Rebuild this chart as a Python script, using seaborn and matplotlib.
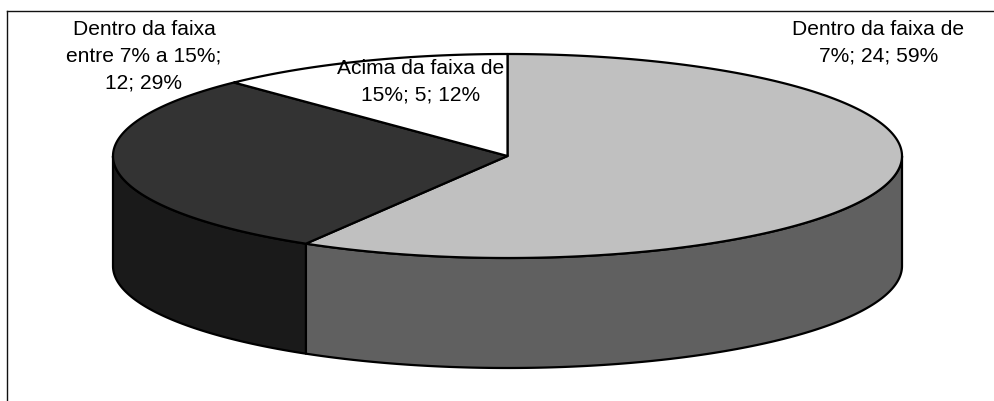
import numpy as np
import matplotlib
matplotlib.use("Agg")
import matplotlib.pyplot as plt
import seaborn as sns

# Survey counts per range
categories = ["Dentro da faixa de 7%", "Dentro da faixa entre 7% a 15%", "Acima da faixa de 15%"]
counts = [24, 12, 5]
label_texts = [
    "Dentro da faixa de\n7%; 24; 59%",
    "Dentro da faixa\nentre 7% a 15%;\n12; 29%",
    "Acima da faixa de\n15%; 5; 12%",
]
top_colors = ["#C0C0C0", "#333333", "#FFFFFF"]
side_colors = ["#606060", "#1A1A1A", "#808080"]
label_centers = [(878.5, 43), (144, 56.5), (420.5, 81.5)]

sns.set_theme(style="white")
plt.rcParams["font.family"] = ["Liberation Sans", "DejaVu Sans"]

# Pie projection in pixel-like axis units
CX, CY, RX, RY, DEPTH = 507.5, 156.0, 394.5, 102.0, 110.0
EDGE = 1.6


def rim(a0, a1, drop=0.0):
    """Ellipse points between two clockwise angles measured from the top."""
    n = max(int(abs(a1 - a0) * 2), 2)
    t = np.radians(np.linspace(a0, a1, n))
    return CX + RX * np.sin(t), CY - RY * np.cos(t) + drop


fig = plt.figure(figsize=(9.95, 4.01), dpi=100, facecolor="white")
ax = fig.add_axes([7 / 995, 0, 988 / 995, (401 - 10.5) / 401])
ax.set_xlim(7, 995)
ax.set_ylim(401, 10.5)
ax.set_xticks([])
ax.set_yticks([])
sns.despine(ax=ax, top=False, right=True, left=False, bottom=True)
for side in ("left", "top"):
    ax.spines[side].set_color("#111111")
    ax.spines[side].set_linewidth(1.0)

shares = np.array(counts, dtype=float) / sum(counts) * 360
ends = np.cumsum(shares)
starts = ends - shares

# Outer wall: only the part of each slice facing the viewer
for a0, a1, color in zip(starts, ends, side_colors):
    lo, hi = max(a0, 90.0), min(a1, 270.0)
    if lo >= hi:
        continue
    x_top, y_top = rim(lo, hi)
    x_bot, y_bot = rim(hi, lo, DEPTH)
    ax.fill(np.r_[x_top, x_bot], np.r_[y_top, y_bot], facecolor=color,
            edgecolor="black", linewidth=EDGE, joinstyle="round", zorder=2)

# Top face of each slice
for a0, a1, color in zip(starts, ends, top_colors):
    x, y = rim(a0, a1)
    ax.fill(np.r_[CX, x], np.r_[CY, y], facecolor=color,
            edgecolor="black", linewidth=EDGE, joinstyle="round", zorder=3)

for text, (lx, ly) in zip(label_texts, label_centers):
    ax.text(lx, ly, text, ha="center", va="center", fontsize=15.1,
            color="black", linespacing=1.52, zorder=4)

fig.savefig("out.png", dpi=100, facecolor="white")
